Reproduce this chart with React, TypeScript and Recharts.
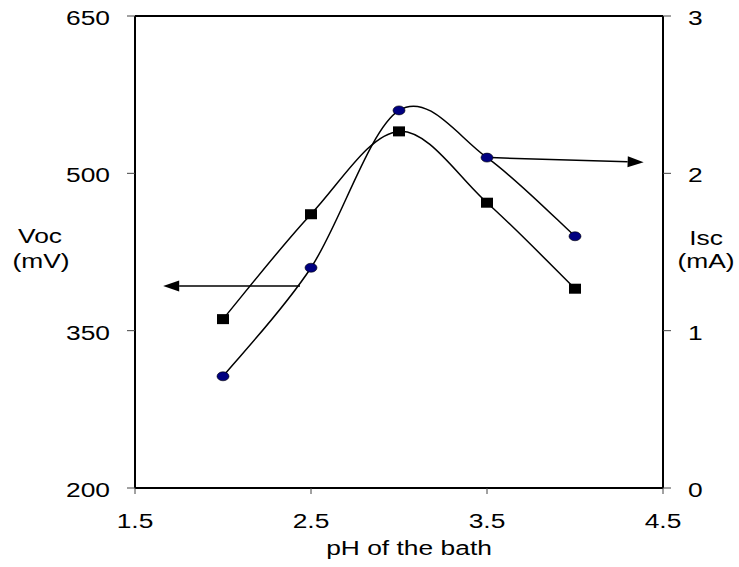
import React from 'react';
import { LineChart, Line, XAxis, YAxis, ReferenceLine } from 'recharts';

// pH of the deposition bath vs open-circuit voltage and short-circuit current
const phValues = [2.0, 2.5, 3.0, 3.5, 4.0];
const vocValues = [361, 461, 540, 472, 390];
const iscValues = [0.71, 1.4, 2.4, 2.1, 1.6];

const phTicks = [1.5, 2.5, 3.5, 4.5];
const vocTicks = [200, 350, 500, 650];
const iscTicks = [0, 1, 2, 3];

// arrow annotations pointing each curve to its axis: [from, to]
const vocArrow = [{ x: 2.4375, y: 392.5 }, { x: 1.66, y: 392.5 }];
const iscArrow = [{ x: 3.52, y: 2.1 }, { x: 4.39, y: 2.07 }];

const rows = phValues.map((ph, i) => ({ ph, voc: vocValues[i], isc: iscValues[i] }));

const FONT = '"Liberation Sans", Arial, sans-serif';
const STRETCH = 1.32;

// Catmull-Rom style smoothing, close to spreadsheet "smoothed line"
const smoothCurve = (context: any) => {
  let pts: [number, number][] = [];
  return {
    areaStart() {},
    areaEnd() {},
    lineStart() {
      pts = [];
    },
    point(x: number, y: number) {
      pts.push([+x, +y]);
    },
    lineEnd() {
      if (!pts.length) return;
      context.moveTo(pts[0][0], pts[0][1]);
      for (let i = 0; i < pts.length - 1; i++) {
        const p0 = pts[Math.max(i - 1, 0)];
        const p1 = pts[i];
        const p2 = pts[i + 1];
        const p3 = pts[Math.min(i + 2, pts.length - 1)];
        context.bezierCurveTo(
          p1[0] + (p2[0] - p0[0]) / 6,
          p1[1] + (p2[1] - p0[1]) / 6,
          p2[0] - (p3[0] - p1[0]) / 6,
          p2[1] - (p3[1] - p1[1]) / 6,
          p2[0],
          p2[1]
        );
      }
    },
  };
};

const SText = ({ x, y, anchor, children }: any) => (
  <text
    transform={`translate(${x},${y}) scale(${STRETCH},1)`}
    textAnchor={anchor}
    fontFamily={FONT}
    fontSize={20}
    fill="#000"
  >
    {children}
  </text>
);

const makeTick = (anchor: string, dy: number) => (props: any) => {
  const { x, y, payload } = props;
  return (
    <SText x={x} y={y + dy} anchor={anchor}>
      {payload.value}
    </SText>
  );
};

const SquareDot = (props: any) => {
  const { cx, cy } = props;
  if (cx == null || cy == null) return null;
  return <rect x={cx - 6} y={cy - 5} width={12} height={10} fill="#000" />;
};

const RoundDot = (props: any) => {
  const { cx, cy } = props;
  if (cx == null || cy == null) return null;
  return <ellipse cx={cx} cy={cy} rx={6} ry={4.5} fill="#000080" stroke="#000" strokeWidth={0.6} />;
};

const Arrow = (props: any) => {
  const { x1, y1, x2, y2 } = props;
  const ang = Math.atan2(y2 - y1, x2 - x1);
  const len = 16;
  const half = 5.5;
  const bx = x2 - len * Math.cos(ang);
  const by = y2 - len * Math.sin(ang);
  const px = -Math.sin(ang) * half;
  const py = Math.cos(ang) * half;
  return (
    <g>
      <line x1={x1} y1={y1} x2={bx} y2={by} stroke="#000" strokeWidth={1.5} />
      <polygon points={`${x2},${y2} ${bx + px},${by + py} ${bx - px},${by - py}`} fill="#000" />
    </g>
  );
};

export default function App() {
  return (
    <div style={{ position: 'absolute', left: 0, top: 0, background: '#fff' }}>
      <LineChart width={739} height={567} data={rows} margin={{ top: 16, right: 0, bottom: 0, left: 0 }}>
        <XAxis
          dataKey="ph"
          type="number"
          domain={[1.5, 4.5]}
          ticks={phTicks}
          interval={0}
          axisLine={{ stroke: '#000', strokeWidth: 2 }}
          tickLine={{ stroke: '#444', strokeWidth: 1 }}
          tickSize={6}
          tickMargin={4}
          height={79}
          tick={makeTick('middle', 30)}
          label={{
            content: () => (
              <SText x={409} y={555} anchor="middle">
                pH of the bath
              </SText>
            ),
          }}
        />
        <YAxis
          yAxisId="voc"
          orientation="left"
          type="number"
          domain={[200, 650]}
          ticks={vocTicks}
          interval={0}
          width={135}
          axisLine={{ stroke: '#000', strokeWidth: 2 }}
          tickLine={{ stroke: '#444', strokeWidth: 1 }}
          tickSize={8}
          tickMargin={17}
          tick={makeTick('end', 9)}
          label={{
            content: () => (
              <g>
                <SText x={40} y={243} anchor="middle">
                  Voc
                </SText>
                <SText x={41} y={268} anchor="middle">
                  (mV)
                </SText>
              </g>
            ),
          }}
        />
        <YAxis
          yAxisId="isc"
          orientation="right"
          type="number"
          domain={[0, 3]}
          ticks={iscTicks}
          interval={0}
          width={76}
          axisLine={{ stroke: '#000', strokeWidth: 2 }}
          tickLine={{ stroke: '#444', strokeWidth: 1 }}
          tickSize={8}
          tickMargin={17}
          tick={makeTick('start', 9)}
          label={{
            content: () => (
              <g>
                <SText x={706} y={245} anchor="middle">
                  Isc
                </SText>
                <SText x={706} y={268} anchor="middle">
                  (mA)
                </SText>
              </g>
            ),
          }}
        />
        <ReferenceLine yAxisId="voc" y={650} stroke="#000" strokeWidth={2} ifOverflow="extendDomain" />
        <ReferenceLine yAxisId="voc" segment={vocArrow} shape={Arrow} ifOverflow="visible" />
        <ReferenceLine yAxisId="isc" segment={iscArrow} shape={Arrow} ifOverflow="visible" />
        <Line
          yAxisId="voc"
          dataKey="voc"
          type={smoothCurve as any}
          stroke="#000"
          strokeWidth={1.5}
          dot={<SquareDot />}
          isAnimationActive={false}
        />
        <Line
          yAxisId="isc"
          dataKey="isc"
          type={smoothCurve as any}
          stroke="#000"
          strokeWidth={1.5}
          dot={<RoundDot />}
          isAnimationActive={false}
        />
      </LineChart>
    </div>
  );
}
